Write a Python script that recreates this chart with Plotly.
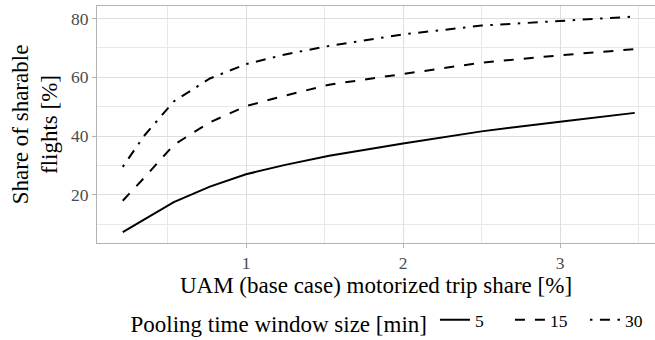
import plotly.graph_objects as go

# UAM motorized trip share [%] (base case)
trip_share = [0.215, 0.35, 0.54, 0.77, 1.0, 1.25, 1.53, 2.0, 2.5, 3.0, 3.476]

# Share of sharable flights [%] per pooling time window
window_labels = ["5", "15", "30"]
share_5 = [7.3, 11.5, 17.5, 22.8, 27.0, 30.2, 33.3, 37.5, 41.6, 44.9, 47.9]
share_15 = [18.0, 25.7, 37.0, 44.7, 50.2, 53.8, 57.5, 61.1, 65.0, 67.5, 69.6]
share_30 = [29.5, 40.0, 51.8, 59.6, 64.5, 67.8, 70.7, 74.6, 77.6, 79.2, 80.7]

x_ticks = [1, 2, 3]
y_ticks = [20, 40, 60, 80]

FONT = "Liberation Serif"
TITLE_SIZE = 23
NUM_SIZE = 17.5
series = [share_5, share_15, share_30]
dashes = ["solid", "10px,10px", "2.5px,7.5px,10px,7.5px"]

fig = go.Figure()
for label, values, dash in zip(window_labels, series, dashes):
    fig.add_trace(go.Scatter(
        x=trip_share, y=values, mode="lines", name=label,
        line=dict(color="black", width=2, dash=dash),
    ))

axis_common = dict(
    showgrid=True, gridcolor="#dedede", gridwidth=1,
    zeroline=False,
    showline=True, linecolor="#b3b3b3", linewidth=1,
    ticks="outside", ticklen=4, tickcolor="#b3b3b3", tickwidth=1,
    tickfont=dict(family=FONT, size=NUM_SIZE, color="#4d4d4d"),
)

fig.update_layout(
    width=655, height=340,
    margin=dict(l=97, r=0, t=6, b=97),
    paper_bgcolor="white", plot_bgcolor="white",
    font=dict(family=FONT, color="black"),
    xaxis=dict(
        **axis_common,
        range=[0.051, 3.605],
        tickvals=x_ticks,
        mirror=True,
        minor=dict(dtick=0.5, tick0=0, showgrid=True, gridcolor="#e8e8e8", gridwidth=0.6, ticks=""),
        title=dict(text="UAM (base case) motorized trip share [%]",
                   font=dict(family=FONT, size=TITLE_SIZE, color="black"), standoff=1),
    ),
    yaxis=dict(
        **axis_common,
        range=[3.6, 84.28],
        tickvals=y_ticks,
        mirror=False,
        minor=dict(dtick=10, tick0=0, showgrid=True, gridcolor="#e8e8e8", gridwidth=0.6, ticks=""),
        title=dict(text="Share of sharable<br>flights [%]",
                   font=dict(family=FONT, size=TITLE_SIZE, color="black"), standoff=6),
    ),
    showlegend=True,
    legend=dict(
        orientation="h",
        xref="container", yref="container",
        x=0.1962, y=0.053, xanchor="left", yanchor="middle",
        title=dict(text="Pooling time window size [min]",
                   font=dict(family=FONT, size=TITLE_SIZE, color="black"), side="left"),
        font=dict(family=FONT, size=NUM_SIZE, color="black"),
        itemwidth=30,
        entrywidth=30,
        bgcolor="rgba(0,0,0,0)",
    ),
)

fig.write_html("out.html")
